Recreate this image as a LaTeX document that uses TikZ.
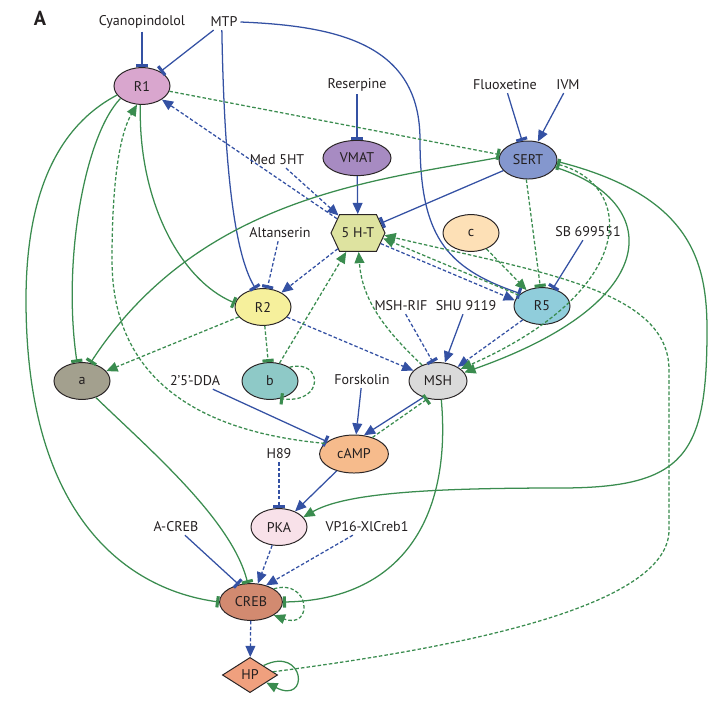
\documentclass[tikz,border=0pt]{standalone}
\usepackage{fontspec}
\setmainfont{PT Sans}
\usetikzlibrary{arrows.meta, shapes.geometric, shapes.symbols}
\definecolor{blu}{HTML}{3451A3}
\definecolor{grn}{HTML}{3A8C4F}
\definecolor{edgecol}{HTML}{2A2526}
\definecolor{txtcol}{HTML}{231F20}
\definecolor{r1col}{HTML}{D9A6CE}
\definecolor{vmatcol}{HTML}{A78BC2}
\definecolor{sertcol}{HTML}{8497CE}
\definecolor{htcol}{HTML}{DEE3A0}
\definecolor{ccol}{HTML}{FDE0B6}
\definecolor{r2col}{HTML}{F6F09C}
\definecolor{r5col}{HTML}{90CDDB}
\definecolor{acol}{HTML}{A3A08E}
\definecolor{bcol}{HTML}{8EC9C7}
\definecolor{mshcol}{HTML}{DADADA}
\definecolor{campcol}{HTML}{F6BB8C}
\definecolor{pkacol}{HTML}{F8E1E9}
\definecolor{crebcol}{HTML}{D28A70}
\definecolor{hpcol}{HTML}{F0A07E}
\begin{document}
\begin{tikzpicture}[x = 0.025cm, y = -0.025cm, text = txtcol,
  ell/.style = {ellipse, draw = edgecol, line width = 0.7pt, minimum width = 1.4cm, minimum height = 0.92cm, inner sep = 0pt},
  lbl/.style = {inner sep = 2pt},
  bl/.style = {draw = blu, line width = 0.9pt},
  gr/.style = {draw = grn, line width = 0.9pt},
  dsh/.style = {dash pattern = on 2.5pt off 1.5pt},
  act/.style = {-{Triangle[length = 8pt, width = 7pt]}},
  inh/.style = {-{Bar[width = 8pt, line width = 2.2pt]}},
  baract/.style = {{Bar[width = 8pt, line width = 2.2pt]}-{Triangle[length = 8pt, width = 7pt]}}]
\useasboundingbox (0,0) rectangle (720,717);
\node [font = \Large\bfseries] (panel) at (40,18) {A};
\node [lbl] (cyano) at (142,22) {Cyanopindolol};
\node [lbl] (mtp) at (224,22) {MTP};
\node [ell, fill = r1col] (r1) at (142,86) {R1};
\node [lbl] (reser) at (357,85) {Reserpine};
\node [ell, fill = vmatcol, minimum width = 1.7cm, minimum height = 0.88cm] (vmat) at (357,158) {VMAT};
\node [lbl] (fluox) at (505,85) {Fluoxetine};
\node [lbl] (ivm) at (568,85) {IVM};
\node [ell, fill = sertcol, minimum width = 1.45cm, minimum height = 0.95cm] (sert) at (528,160) {SERT};
\node [lbl] (med) at (277,160) {Med 5HT};
\node [signal, signal to = east and west, signal pointer angle = 130, draw = edgecol, line width = 0.7pt, fill = htcol, minimum width = 1.35cm, minimum height = 0.92cm, inner sep = 0pt] (ht) at (358,233) {5 H-T};
\node [ell, fill = ccol] (c) at (471,233) {c};
\node [lbl] (alt) at (280,233) {Altanserin};
\node [lbl] (sb) at (588,232) {SB 699551};
\node [ell, fill = r2col] (r2) at (263,307) {R2};
\node [ell, fill = r5col] (r5) at (542,306) {R5};
\node [lbl] (rif) at (401,306) {MSH-RIF};
\node [lbl] (shu) at (466,306) {SHU 9119};
\node [ell, fill = acol] (a) at (82,381) {a};
\node [ell, fill = bcol] (b) at (270,381) {b};
\node [lbl] (dda) at (195,381) {2'5'-DDA};
\node [lbl] (forsk) at (362,380) {Forskolin};
\node [ell, fill = mshcol, minimum width = 1.45cm] (msh) at (438,381) {MSH};
\node [ell, fill = campcol, minimum width = 1.72cm, minimum height = 0.95cm] (camp) at (354,454) {cAMP};
\node [lbl] (h89) at (279,454) {H89};
\node [ell, fill = pkacol] (pka) at (279,527) {PKA};
\node [lbl] (acreb) at (176,527) {A-CREB};
\node [lbl] (vp16) at (367,527) {VP16-XlCreb1};
\node [ell, fill = crebcol, minimum width = 1.57cm] (creb) at (251,602) {CREB};
\node [diamond, aspect = 1.6, draw = edgecol, line width = 0.7pt, fill = hpcol, minimum width = 1.38cm, minimum height = 0.88cm, inner sep = 0pt] (hp) at (250,675) {HP};
\draw [bl, inh] (cyano) -- (r1);
\draw [bl, inh] (mtp) -- (r1);
\draw [bl, inh] (mtp.255) .. controls (224,150) and (232,250) .. (r2.112);
\draw [bl, inh] (mtp.east) .. controls (340,26) and (420,45) .. (420,140) .. controls (420,235) and (445,268) .. (r5.150);
\draw [bl, inh] (reser) -- (vmat);
\draw [bl, act] (vmat) -- (ht);
\draw [bl, inh] (fluox) -- (sert);
\draw [bl, act] (ivm) -- (sert);
\draw [bl, inh] (sert) -- (ht);
\draw [bl, inh] (sb) -- (r5);
\draw [bl, act] (shu) -- (msh);
\draw [bl, act] (forsk) -- (camp);
\draw [bl, inh] (dda) -- (camp);
\draw [bl, act] (msh.228) -- (camp.62);
\draw [bl, act] (camp) -- (pka);
\draw [bl, inh] (acreb) -- (creb.125);
\draw [bl, dsh, act] (ht) -- (r1);
\draw [bl, dsh, act] (med) -- (ht);
\draw [bl, dsh, inh] (alt) -- (r2);
\draw [bl, dsh, act] (ht) -- (r2);
\draw [bl, dsh, act] (ht.-25) -- (r5.168);
\draw [bl, dsh, act] (r2) -- (msh);
\draw [bl, dsh, inh] (rif) -- (msh.105);
\draw [bl, dsh, act] (r5) -- (msh);
\draw [bl, dsh, inh] (h89) -- (pka);
\draw [bl, dsh, act] (pka) -- (creb);
\draw [bl, dsh, act] (vp16) -- (creb.48);
\draw [bl, dsh, act] (creb) -- (hp);
\draw [gr, inh] (r1.210) .. controls (85,135) and (62,260) .. (a.105);
\draw [gr, inh] (r1.200) .. controls (60,125) and (26,190) .. (26,300) .. controls (26,520) and (130,590) .. (creb.west);
\draw [gr, inh] (r1.-95) .. controls (138,200) and (180,280) .. (r2.172);
\draw [gr, inh] (sert.175) .. controls (380,180) and (200,195) .. (a.65);
\draw [gr, inh] (a.-50) .. controls (150,450) and (232,520) .. (creb.100);
\draw [gr, inh] (msh.-80) .. controls (452,520) and (400,600) .. (creb.east);
\draw [gr, act] (sert.-15) .. controls (660,200) and (670,300) .. (msh.18);
\draw [gr, dsh, baract] (sert.-8) .. controls (635,185) and (640,290) .. (msh.28);
\draw [gr, act] (sert.-3) .. controls (690,195) and (707,260) .. (707,330) .. controls (707,455) and (685,488) .. (560,488) .. controls (430,488) and (345,493) .. (pka.22);
\draw [gr, dsh, act] (creb.30) .. controls (310,578) and (314,630) .. (creb.-30);
\draw [gr, act] (hp.35) .. controls (305,645) and (310,705) .. (hp.-25);
\draw [gr, dsh, inh] (b.35) .. controls (322,358) and (326,404) .. (b.-60);
\draw [gr, dsh, inh] (r1) -- (sert);
\draw [gr, dsh, act] (camp.160) .. controls (200,432) and (112,380) .. (112,260) .. controls (112,170) and (122,130) .. (r1.-105);
\draw [gr, dsh, act] (r2) -- (a);
\draw [gr, dsh, inh] (r2) -- (b);
\draw [gr, dsh, act] (b.62) -- (ht.238);
\draw [gr, dsh, act] (msh.135) .. controls (385,330) and (362,300) .. (ht.-88);
\draw [gr, dsh, inh] (camp.42) -- (msh.240);
\draw [gr, dsh, inh] (sert.-95) -- (r5.95);
\draw [gr, dsh, act] (c) -- (r5);
\draw [gr, dsh, act] (r5.155) -- (ht.-12);
\draw [gr, dsh, act] (hp.8) .. controls (440,650) and (669,610) .. (669,530) -- (669,370) .. controls (669,290) and (540,272) .. (ht.-5);
\end{tikzpicture}
\end{document}
